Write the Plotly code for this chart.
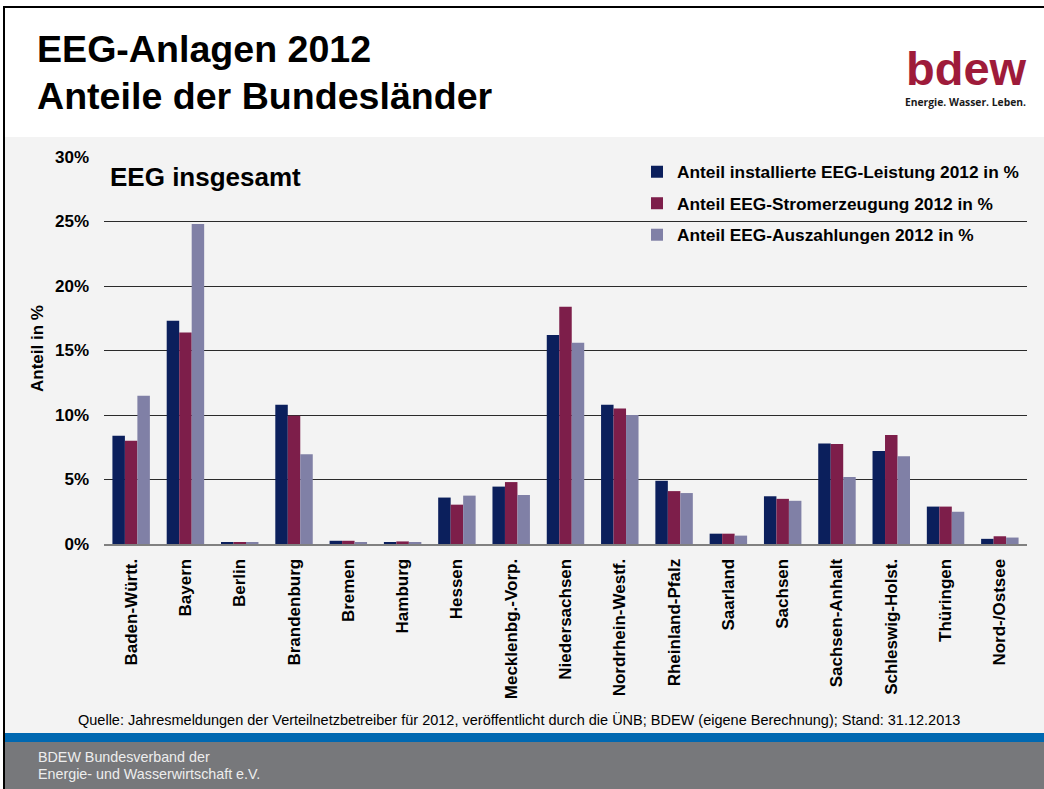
import plotly.graph_objects as go

# Bundesländer and shares (%) of the three EEG indicators for 2012
laender = [
    "Baden-Württ.", "Bayern", "Berlin", "Brandenburg", "Bremen", "Hamburg",
    "Hessen", "Mecklenbg.-Vorp.", "Niedersachsen", "Nordrhein-Westf.",
    "Rheinland-Pfalz", "Saarland", "Sachsen", "Sachsen-Anhalt",
    "Schleswig-Holst.", "Thüringen", "Nord-/Ostsee",
]
leistung = [8.4, 17.3, 0.1, 10.8, 0.25, 0.15, 3.6, 4.45, 16.2, 10.8, 4.9, 0.8, 3.7, 7.8, 7.2, 2.9, 0.4]
stromerzeugung = [8.0, 16.4, 0.15, 9.95, 0.25, 0.2, 3.05, 4.8, 18.4, 10.5, 4.1, 0.8, 3.5, 7.75, 8.45, 2.9, 0.6]
auszahlungen = [11.5, 24.8, 0.1, 6.95, 0.15, 0.1, 3.75, 3.8, 15.6, 10.0, 3.95, 0.65, 3.35, 5.2, 6.8, 2.5, 0.5]

serien = [
    ("Anteil installierte EEG-Leistung 2012 in %", leistung, "#0b1f5c"),
    ("Anteil EEG-Stromerzeugung 2012 in %", stromerzeugung, "#7d1e4a"),
    ("Anteil EEG-Auszahlungen 2012 in %", auszahlungen, "#8080a6"),
]
y_ticks = [0, 5, 10, 15, 20, 25, 30]

W, H = 1044, 789
L, R, T, B = 104, 1027, 157, 544
FONT = "Arial"


def px(x):
    return (x - L) / (R - L)


def py(y):
    return (B - y) / (B - T)


fig = go.Figure()
for i, (name, vals, col) in enumerate(serien):
    fig.add_trace(go.Bar(
        x=laender, y=vals, name=name,
        marker=dict(color=col, line=dict(width=0)),
        legendgroup=f"g{i}",
    ))

shapes = [
    # white header band
    dict(type="rect", xref="paper", yref="paper", x0=px(0), x1=px(W), y0=py(137), y1=py(0),
         fillcolor="white", line=dict(width=0), layer="below"),
    # white strip left of the frame
    dict(type="rect", xref="paper", yref="paper", x0=px(0), x1=px(3), y0=py(H), y1=py(0),
         fillcolor="white", line=dict(width=0), layer="below"),
    # frame lines
    dict(type="line", xref="paper", yref="paper", x0=px(3), x1=px(W), y0=py(7), y1=py(7),
         line=dict(color="black", width=2), layer="below"),
    dict(type="line", xref="paper", yref="paper", x0=px(4), x1=px(4), y0=py(7), y1=py(H),
         line=dict(color="black", width=2), layer="below"),
    # blue stripe and grey footer
    dict(type="rect", xref="paper", yref="paper", x0=px(5), x1=px(W), y0=py(742), y1=py(733),
         fillcolor="#0068b1", line=dict(width=0), layer="below"),
    dict(type="rect", xref="paper", yref="paper", x0=px(5), x1=px(W), y0=py(H), y1=py(742),
         fillcolor="#77787b", line=dict(width=0), layer="below"),
]

annotations = [
    dict(text="EEG-Anlagen 2012", x=px(35), y=py(49), xanchor="left", yanchor="middle",
         font=dict(family=FONT, size=37.6, color="black", weight="bold")),
    dict(text="Anteile der Bundesländer", x=px(35), y=py(96), xanchor="left", yanchor="middle",
         font=dict(family=FONT, size=37.6, color="black", weight="bold")),
    dict(text="bdew", x=px(1029), y=py(68), xanchor="right", yanchor="middle",
         font=dict(family=FONT, size=47, color="#9e1b3a", weight="bold")),
    dict(text="Energie. Wasser. Leben.", x=px(1028), y=py(102), xanchor="right", yanchor="middle",
         font=dict(family="Open Sans", size=10.3, color="#1a1a1a", weight="bold")),
    dict(text="EEG insgesamt", x=px(108), y=py(177), xanchor="left", yanchor="middle",
         font=dict(family=FONT, size=26, color="black", weight="bold")),
    dict(text="Anteil in %", x=px(37), y=py(349), xanchor="center", yanchor="middle", textangle=-90,
         font=dict(family=FONT, size=17, color="black", weight="bold")),
    dict(text="Quelle: Jahresmeldungen der Verteilnetzbetreiber für 2012, veröffentlicht durch die ÜNB; "
              "BDEW (eigene Berechnung); Stand: 31.12.2013",
         x=px(519), y=py(719), xanchor="center", yanchor="middle",
         font=dict(family=FONT, size=14.5, color="black")),
    dict(text="BDEW Bundesverband der", x=px(36), y=py(757), xanchor="left", yanchor="middle",
         font=dict(family=FONT, size=14.3, color="#ededed")),
    dict(text="Energie- und Wasserwirtschaft e.V.", x=px(36), y=py(774), xanchor="left", yanchor="middle",
         font=dict(family=FONT, size=14.3, color="#ededed")),
]
for a in annotations:
    a.update(xref="paper", yref="paper", showarrow=False)

fig.update_layout(
    width=W, height=H,
    margin=dict(l=L, r=W - R, t=T, b=H - B, pad=0),
    paper_bgcolor="#f3f3f3",
    plot_bgcolor="rgba(0,0,0,0)",
    barmode="group", bargap=0.31, bargroupgap=0,
    font=dict(family=FONT, color="black"),
    showlegend=True,
    legend=dict(
        x=px(637), y=py(154), xanchor="left", yanchor="top",
        bgcolor="rgba(0,0,0,0)", tracegroupgap=6,
        font=dict(family=FONT, size=17.3, color="black", weight="bold"),
        itemwidth=30,
    ),
    shapes=shapes,
    annotations=annotations,
)
fig.update_xaxes(
    tickangle=-90, showgrid=False, showline=True, linecolor="#808080", linewidth=2,
    ticks="", ticklabelstandoff=6,
    tickfont=dict(family=FONT, size=17, color="black", weight="bold"),
    fixedrange=True,
)
fig.update_yaxes(
    range=[0, 30], tickvals=y_ticks, ticktext=[f"{v}%" for v in y_ticks],
    showgrid=True, gridcolor="#2a2a2a", gridwidth=1, zeroline=False, showline=False,
    ticks="", ticklabelstandoff=14,
    tickfont=dict(family=FONT, size=17, color="black", weight="bold"),
    fixedrange=True,
)

fig.write_html("out.html")
